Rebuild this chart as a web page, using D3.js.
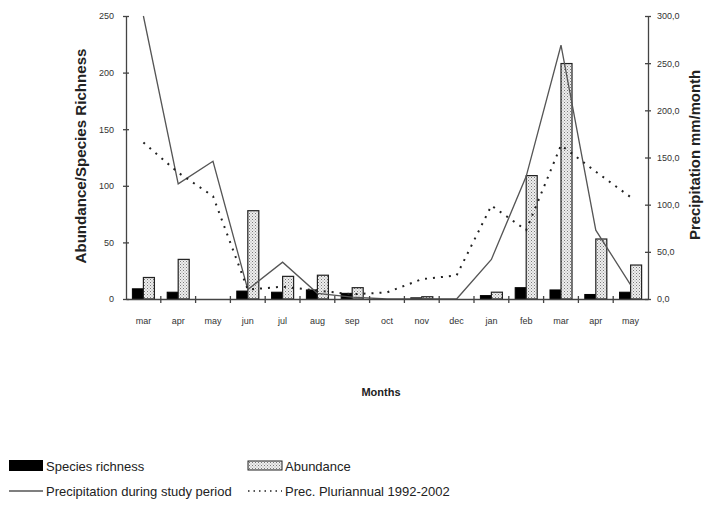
<!DOCTYPE html>
<html><head><meta charset="utf-8">
<script src="https://cdn.jsdelivr.net/npm/d3@7/dist/d3.min.js"></script>
<style>body{margin:0;background:#fff}svg{display:block}</style>
</head><body><svg id="c" width="704" height="505"></svg>
<script>
const months = ["mar","apr","may","jun","jul","aug","sep","oct","nov","dec","jan","feb","mar","apr","may"];
const richness = [9,6,0,7,6,8,5,0,1,0,3,10,8,4,6];
const abundance = [19,35,0,78,20,21,10,0,2,0,6,109,208,53,30];
const precipStudy = [300,122,146,10,39,6,2,0,0,0,42,130,269,73,15];
const precipPluri = [166,134,109,10,13,9,5,7,21,25,99,73,163,135,108];
const leftTicks = [0,50,100,150,200,250];
const rightTicks = [0,50,100,150,200,250,300];

const svg = d3.select("#c");
const font = "Liberation Sans, Arial, sans-serif";
const defs = svg.append("defs");
const pat = defs.append("pattern").attr("id","hatch").attr("patternUnits","userSpaceOnUse")
  .attr("width",3).attr("height",3);
pat.append("rect").attr("width",3).attr("height",3).attr("fill","#eeeeee");
pat.append("rect").attr("x",0).attr("y",0).attr("width",1).attr("height",1).attr("fill","#7a7a7a");
pat.append("rect").attr("x",1.5).attr("y",1.5).attr("width",1).attr("height",1).attr("fill","#9a9a9a");

const x = d3.scaleBand().domain(d3.range(months.length)).range([126,648]).paddingInner(0).paddingOuter(0);
const x1 = d3.scaleBand().domain(["r","a"]).range([0,x.bandwidth()]).paddingInner(0).paddingOuter(0.58);
const yL = d3.scaleLinear().domain([0,250]).range([299,16]);
const yR = d3.scaleLinear().domain([0,300]).range([299,16]);

// bars
const g = svg.append("g");
g.selectAll(".r").data(richness).join("rect")
  .attr("x",(d,i)=>x(i)+x1("r")).attr("width",x1.bandwidth())
  .attr("y",d=>yL(d)).attr("height",d=>yL(0)-yL(d))
  .attr("fill","#000").attr("stroke",d=>d>0?"#000":"none").attr("stroke-width",1);
g.selectAll(".a").data(abundance).join("rect")
  .attr("x",(d,i)=>x(i)+x1("a")).attr("width",x1.bandwidth())
  .attr("y",d=>yL(d)).attr("height",d=>yL(0)-yL(d))
  .attr("fill","url(#hatch)").attr("stroke",d=>d>0?"#222":"none").attr("stroke-width",1.2);

// lines
const cx = i => x(i)+x.bandwidth()/2;
svg.append("path").datum(precipStudy)
  .attr("d", d3.line().x((d,i)=>cx(i)).y(d=>yR(d)))
  .attr("fill","none").attr("stroke","#555").attr("stroke-width",1.3);
svg.append("path").datum(precipPluri)
  .attr("d", d3.line().x((d,i)=>cx(i)).y(d=>yR(d)))
  .attr("fill","none").attr("stroke","#222").attr("stroke-width",2).attr("stroke-dasharray","2,6").attr("stroke-linecap","butt");

// axes
const axisColor = "#444";
const la = svg.append("g").attr("transform","translate(126,0)")
  .call(d3.axisLeft(yL).tickValues(leftTicks).tickSize(0).tickPadding(12));
la.select(".domain").attr("stroke",axisColor).attr("stroke-width",1.3);
la.selectAll(".tick").append("line").attr("x1",-3).attr("x2",3).attr("stroke",axisColor).attr("stroke-width",1.3);
la.selectAll("text").attr("font-family",font).attr("font-size",9).attr("fill","#333");

const ra = svg.append("g").attr("transform","translate(648,0)")
  .call(d3.axisRight(yR).tickValues(rightTicks).tickSize(0).tickPadding(9).tickFormat(d=>d3.format(".1f")(d).replace(".",",")));
ra.select(".domain").attr("stroke",axisColor).attr("stroke-width",1.3);
ra.selectAll(".tick").append("line").attr("x1",-3).attr("x2",3).attr("stroke",axisColor).attr("stroke-width",1.3);
ra.selectAll("text").attr("font-family",font).attr("font-size",9).attr("fill","#333");

const xa = svg.append("g").attr("transform","translate(0,299)")
  .call(d3.axisBottom(x).tickSize(0).tickPadding(19).tickFormat(i=>months[i]));
xa.select(".domain").attr("stroke",axisColor).attr("stroke-width",1.3);
xa.selectAll("text").attr("font-family",font).attr("font-size",9).attr("fill","#333");
xa.selectAll(".sep").data(d3.range(1,months.length)).join("line")
  .attr("x1",i=>x(i)).attr("x2",i=>x(i)).attr("y1",-3).attr("y2",4)
  .attr("stroke",axisColor).attr("stroke-width",1.3);

// titles
svg.append("text").attr("transform","translate(86,156) rotate(-90)").attr("text-anchor","middle")
  .attr("font-family",font).attr("font-weight","bold").attr("font-size",14).attr("fill","#222")
  .attr("textLength",215).attr("lengthAdjust","spacingAndGlyphs")
  .text("Abundance/Species Richness");
svg.append("text").attr("transform","translate(700,155) rotate(-90)").attr("text-anchor","middle")
  .attr("font-family",font).attr("font-weight","bold").attr("font-size",14).attr("fill","#222")
  .attr("textLength",170).attr("lengthAdjust","spacingAndGlyphs")
  .text("Precipitation mm/month");
svg.append("text").attr("x",381).attr("y",396).attr("text-anchor","middle")
  .attr("font-family",font).attr("font-weight","bold").attr("font-size",11).attr("fill","#222")
  .text("Months");

// legend
const lg = svg.append("g").attr("font-family",font).attr("font-size",13).attr("fill","#222");
lg.append("rect").attr("x",9).attr("y",460).attr("width",34).attr("height",11).attr("fill","#000");
lg.append("text").attr("x",46).attr("y",471).text("Species richness");
lg.append("rect").attr("x",248).attr("y",461).attr("width",34).attr("height",9).attr("fill","url(#hatch)").attr("stroke","#222");
lg.append("text").attr("x",285).attr("y",471).text("Abundance");
lg.append("line").attr("x1",9).attr("x2",43).attr("y1",491).attr("y2",491).attr("stroke","#555").attr("stroke-width",1.3);
lg.append("text").attr("x",46).attr("y",496).text("Precipitation during study period");
lg.append("line").attr("x1",248).attr("x2",282).attr("y1",491).attr("y2",491).attr("stroke","#222").attr("stroke-width",1.3).attr("stroke-dasharray","1.5,4");
lg.append("text").attr("x",285).attr("y",496).text("Prec. Pluriannual 1992-2002");
</script></body></html>
